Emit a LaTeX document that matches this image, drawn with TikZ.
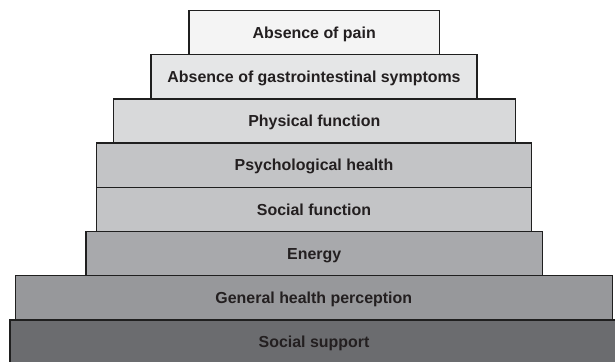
\documentclass[tikz,border=0pt]{standalone}
\usepackage{fontspec}
\setmainfont{Liberation Sans}
\begin{document}
\begin{tikzpicture}[x=1bp,y=-1bp,
  tier/.style={draw=black!88, line width=1.3bp, rectangle, inner sep=0pt, outer sep=0pt,
    minimum height=44.2bp, text height=11.5bp, text depth=0bp,
    font=\fontsize{16}{19}\selectfont\bfseries, text=txt}]
\definecolor{txt}{HTML}{231F20}
\definecolor{c1}{HTML}{F4F4F4}
\definecolor{c2}{HTML}{E5E6E7}
\definecolor{c3}{HTML}{D8D9DA}
\definecolor{c4}{HTML}{C3C4C6}
\definecolor{c6}{HTML}{A8A9AC}
\definecolor{c7}{HTML}{97989B}
\definecolor{c8}{HTML}{6B6C6F}
\clip (0,0) rectangle (615,361);
\node[tier, fill=c8, minimum width=608bp] (t8) at (314,342.0) {Social support};
\node[tier, fill=c7, minimum width=597bp] (t7) at (313.8,297.8) {General health perception};
\node[tier, fill=c6, minimum width=456.3bp] (t6) at (314.2,253.6) {Energy};
\node[tier, fill=c4, minimum width=434.6bp] (t5) at (314,209.4) {Social function};
\node[tier, fill=c4, minimum width=434.6bp] (t4) at (314,165.2) {Psychological health};
\node[tier, fill=c3, minimum width=402bp] (t3) at (314.3,121.0) {Physical function};
\node[tier, fill=c2, minimum width=326bp] (t2) at (314,76.8) {Absence of gastrointestinal symptoms};
\node[tier, fill=c1, minimum width=250.3bp] (t1) at (314.2,32.6) {Absence of pain};
\end{tikzpicture}
\end{document}
